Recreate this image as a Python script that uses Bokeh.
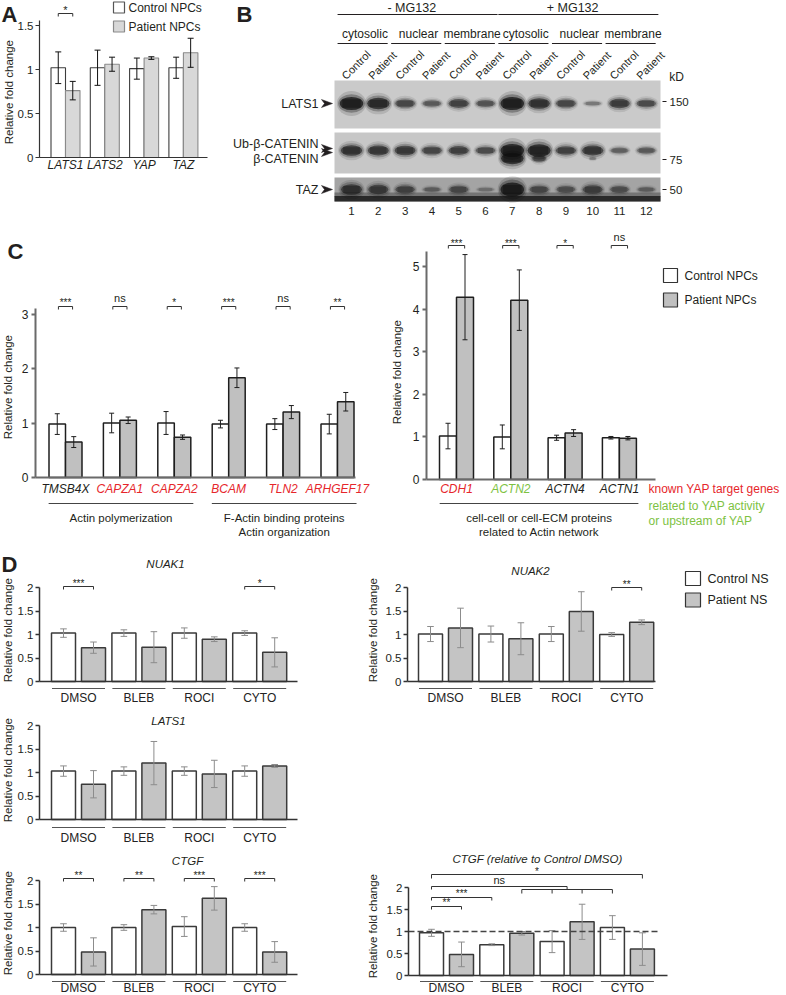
import math
from bokeh.plotting import figure
from bokeh.models import Range1d, FixedTicker, ColumnDataSource
from bokeh.layouts import column, row
from bokeh.embed import file_html
from bokeh.resources import INLINE
from bokeh.core.properties import value

FONT = "Liberation Sans"
INK = "#231f20"
RED = "#e6262b"
GREEN = "#7dc242"

# ====================== DATA ======================
# Panel A
a_genes = ["LATS1", "LATS2", "YAP", "TAZ"]
a_ctrl = [1.02, 1.02, 1.01, 1.02]
a_ctrl_err = [0.18, 0.20, 0.12, 0.12]
a_pat = [0.76, 1.06, 1.13, 1.19]
a_pat_err = [0.105, 0.08, 0.015, 0.165]
a_sig = ["*", "", "", ""]
a_ticks = [0, 0.5, 1, 1.5]
a_tick_labels = ["0", "0.5", "1", "1.5"]
npc_legend = ["Control NPCs", "Patient NPCs"]

# Panel B (western blot, band intensities 0..1)
b_lanes = list(range(1, 13))
b_lane_labels = [str(i) for i in b_lanes]
b_conditions = ["Control", "Patient"] * 6
b_fractions = ["cytosolic", "nuclear", "membrane", "cytosolic", "nuclear", "membrane"]
b_treatments = ["- MG132", "+ MG132"]
b_proteins = ["LATS1", "Ub-β-CATENIN", "β-CATENIN", "TAZ"]
b_markers = ["150", "75", "50"]
b_lats1 = [1.0, 0.85, 0.55, 0.4, 0.6, 0.45, 1.0, 0.75, 0.55, 0.2, 0.65, 0.5]
b_bcat = [0.75, 0.7, 0.68, 0.55, 0.6, 0.5, 1.0, 0.95, 0.6, 0.72, 0.35, 0.4]
b_bcat_smear = [0.0, 0.0, 0.0, 0.0, 0.0, 0.0, 0.9, 0.45, 0.0, 0.1, 0.0, 0.0]
b_taz = [0.7, 0.6, 0.5, 0.25, 0.45, 0.15, 1.0, 0.45, 0.4, 0.55, 0.4, 0.25]

# Panel C left
c1_genes = ["TMSB4X", "CAPZA1", "CAPZA2", "BCAM", "TLN2", "ARHGEF17"]
c1_gene_class = ["other", "yap", "yap", "yap", "yap", "yap"]
c1_ctrl = [0.98, 1.0, 1.0, 0.98, 0.98, 0.98]
c1_ctrl_err = [0.19, 0.18, 0.21, 0.07, 0.10, 0.18]
c1_pat = [0.65, 1.05, 0.74, 1.83, 1.20, 1.39]
c1_pat_err = [0.10, 0.06, 0.04, 0.18, 0.12, 0.17]
c1_sig = ["***", "ns", "*", "***", "ns", "**"]
c1_group_of = [0, 0, 0, 1, 1, 1]
c1_groups = [["Actin polymerization"], ["F-Actin binding proteins", "Actin organization"]]
c1_ticks = [0, 1, 2, 3]

# Panel C right
c2_genes = ["CDH1", "ACTN2", "ACTN4", "ACTN1"]
c2_gene_class = ["yap", "related", "other", "other"]
c2_ctrl = [1.02, 1.0, 0.98, 0.98]
c2_ctrl_err = [0.30, 0.28, 0.06, 0.03]
c2_pat = [4.28, 4.21, 1.09, 0.97]
c2_pat_err = [1.0, 0.71, 0.08, 0.04]
c2_sig = ["***", "***", "*", "ns"]
c2_groups = [["cell-cell or cell-ECM proteins", "related to Actin network"]]
c2_ticks = [0, 1, 2, 3, 4, 5]
class_notes = ["known YAP target genes", "related to YAP activity", "or upstream of YAP"]
class_note_class = ["yap", "related", "related"]

# Panel D
treatments = ["DMSO", "BLEB", "ROCI", "CYTO"]
ns_legend = ["Control NS", "Patient NS"]
d_ticks = [0, 0.5, 1, 1.5, 2]
d_tick_labels = ["0", "0.5", "1", "1.5", "2"]

nuak1_ctrl = [1.03, 1.03, 1.03, 1.03]
nuak1_ctrl_err = [0.09, 0.07, 0.11, 0.05]
nuak1_pat = [0.72, 0.73, 0.90, 0.62]
nuak1_pat_err = [0.12, 0.33, 0.05, 0.31]
nuak1_sig = ["***", "", "", "*"]

nuak2_ctrl = [1.01, 1.01, 1.01, 1.0]
nuak2_ctrl_err = [0.16, 0.17, 0.16, 0.04]
nuak2_pat = [1.14, 0.91, 1.49, 1.26]
nuak2_pat_err = [0.42, 0.34, 0.42, 0.05]
nuak2_sig = ["", "", "", "**"]

lats1_ctrl = [1.03, 1.03, 1.03, 1.03]
lats1_ctrl_err = [0.11, 0.09, 0.09, 0.11]
lats1_pat = [0.75, 1.20, 0.97, 1.14]
lats1_pat_err = [0.29, 0.46, 0.29, 0.03]

ctgf_ctrl = [1.0, 1.0, 1.02, 1.0]
ctgf_ctrl_err = [0.08, 0.06, 0.21, 0.08]
ctgf_pat = [0.48, 1.38, 1.62, 0.48]
ctgf_pat_err = [0.30, 0.09, 0.25, 0.22]
ctgf_sig = ["**", "**", "***", "***"]

ctgfr_ctrl = [0.97, 0.70, 0.77, 1.09]
ctgfr_ctrl_err = [0.08, 0.02, 0.25, 0.27]
ctgfr_pat = [0.48, 0.96, 1.22, 0.60]
ctgfr_pat_err = [0.28, 0.04, 0.40, 0.37]

class_color = {"yap": RED, "related": GREEN, "other": INK}
YLAB = "Relative  fold change"


# ====================== HELPERS ======================
class Panel:
    """A figure whose frame fills it; x in category units, y in value units, y axis pinned inside."""

    def __init__(self, box, axis_x, zero_y, k, c0, s, ticks=None, tick_labels=None,
                 axis_top=None, tick_size="12px", standoff=2, axis_color="#333", axis_width=1.3):
        x0, x1, y0, y1 = box
        self.zero_y, self.k, self.c0, self.s = zero_y, k, c0, s
        self.axis_color, self.axis_width = axis_color, axis_width
        p = figure(width=x1 - x0, height=y1 - y0, output_backend="svg", toolbar_location=None,
                   x_axis_location=None, y_axis_location=("left" if ticks else None),
                   x_range=Range1d(self.X(x0), self.X(x1)),
                   y_range=Range1d(self.Y(y1), self.Y(y0)),
                   min_border_left=0, min_border_right=0, min_border_top=0, min_border_bottom=0)
        p.outline_line_color = None
        p.xgrid.grid_line_color = None
        p.ygrid.grid_line_color = None
        p.background_fill_color = "white"
        p.border_fill_color = "white"
        if ticks:
            ax = p.yaxis[0]
            ax.fixed_location = self.X(axis_x)
            ax.ticker = FixedTicker(ticks=ticks)
            ax.major_label_overrides = {float(t): l for t, l in zip(ticks, tick_labels)}
            ax.bounds = (0, axis_top)
            ax.axis_line_color = axis_color
            ax.axis_line_width = axis_width
            ax.major_tick_line_color = axis_color
            ax.major_tick_line_width = axis_width
            ax.major_tick_in = 0
            ax.major_tick_out = 4
            ax.minor_tick_line_color = None
            ax.major_label_text_font = FONT
            ax.major_label_text_font_size = tick_size
            ax.major_label_text_color = INK
            ax.major_label_standoff = standoff
        self.p = p

    def X(self, px):
        return (px - self.c0) / self.s

    def Y(self, py):
        return (self.zero_y - py) / self.k

    def xaxis_line(self, from_px, to_px):
        self.p.segment(x0=[self.X(from_px)], y0=[0], x1=[self.X(to_px)], y1=[0],
                       line_color=self.axis_color, line_width=self.axis_width)

    def text(self, xs, ys, texts, size="12px", color=INK, align="center", baseline="middle",
             style="normal", angle=0.0):
        self.p.text(x=list(xs), y=list(ys), text=list(texts), text_font=value(FONT),
                    text_font_size=size, text_color=color, text_align=align,
                    text_baseline=baseline, text_font_style=style, angle=angle)

    def label(self, px, py, text, size, angle=0.0, align="center", baseline="middle",
              style="normal", color=INK):
        self.text([self.X(px)], [self.Y(py)], [text], size=size, color=color, align=align,
                  baseline=baseline, style=style, angle=angle)

    def bracket(self, xl, xr, py, drop_px, color="#333", lw=1.0):
        y = self.Y(py)
        d = drop_px / self.k
        self.p.line(x=[xl, xl, xr, xr], y=[y - d, y, y, y - d], line_color=color, line_width=lw)

    def legend_boxes(self, cx_px, cy_pxs, w_px, h_px, fills, lines, tx_px, labels, size):
        n = len(cy_pxs)
        self.p.rect(x=[self.X(cx_px)] * n, y=[self.Y(c) for c in cy_pxs],
                    width=w_px / self.s, height=h_px / abs(self.k),
                    fill_color=fills, line_color=lines, line_width=1.2)
        self.text([self.X(tx_px)] * n, [self.Y(c) for c in cy_pxs], labels, size=size, align="left")


def add_bars(P, xs, vals, errs, width, fill, line, lw, ecol, elw, cap_px):
    cap = cap_px / P.s
    src = ColumnDataSource(dict(
        x=xs, top=vals,
        lo=[v - e for v, e in zip(vals, errs)],
        hi=[v + e for v, e in zip(vals, errs)],
        xl=[x - cap for x in xs], xr=[x + cap for x in xs]))
    P.p.vbar(x="x", top="top", bottom=0, width=width, source=src,
             fill_color=fill, line_color=line, line_width=lw)
    P.p.segment(x0="x", y0="lo", x1="x", y1="hi", source=src, line_color=ecol, line_width=elw)
    P.p.segment(x0="xl", y0="hi", x1="xr", y1="hi", source=src, line_color=ecol, line_width=elw)
    P.p.segment(x0="xl", y0="lo", x1="xr", y1="lo", source=src, line_color=ecol, line_width=elw)


def star_size(sg):
    return "11px" if sg == "ns" else "10px"


# ====================== PANEL A ======================
A = Panel((0, 222, 0, 230), axis_x=39, zero_y=157, k=88.0, c0=65.0, s=39.3,
          ticks=a_ticks, tick_labels=a_tick_labels, axis_top=1.56, tick_size="11.5px",
          standoff=2, axis_color="#333", axis_width=1.2)
ga = list(range(len(a_genes)))
wa = 14.5 / A.s
add_bars(A, [i - wa / 2 for i in ga], a_ctrl, a_ctrl_err, wa, "white", "#3c3c3c", 1.1, "#111", 1.0, 3)
add_bars(A, [i + wa / 2 for i in ga], a_pat, a_pat_err, wa, "#d8d8d8", "#8a8a8a", 1.1, "#111", 1.0, 3)
A.xaxis_line(39, 207)
A.text(ga, [A.Y(164)] * len(ga), a_genes, size="12px", style="italic")
for i, sg in enumerate(a_sig):
    if sg:
        A.bracket(i - wa / 2, i + wa / 2, 13, 3)
        A.text([i], [A.Y(9)], [sg], size="11px")
A.legend_boxes(118.5, [7, 26], 11, 11, ["white", "#d8d8d8"], ["#555", "#8a8a8a"], 128,
               npc_legend, "12px")
A.label(8, 90, YLAB, "11.5px", angle=math.pi / 2)
A.label(1, 1, "A", "22px", align="left", baseline="top", style="bold")

# ====================== PANEL B (blot) ======================
B = Panel((222, 786, 0, 230), axis_x=222, zero_y=0, k=-1.0, c0=351 - 26.8, s=26.8)
pb = B.p
sx0, sx1 = B.X(334), B.X(660)
pb.quad(left=[sx0] * 3, right=[sx1] * 3, top=[B.Y(80), B.Y(132), B.Y(177)],
        bottom=[B.Y(128), B.Y(173), B.Y(201)],
        fill_color=["#cacaca", "#c7c7c7", "#a4a4a4"], line_color=None)
pb.quad(left=[sx0], right=[sx1], top=[B.Y(192)], bottom=[B.Y(196)], fill_color="#555555",
        fill_alpha=0.6, line_color=None)
pb.quad(left=[sx0], right=[sx1], top=[B.Y(195.5)], bottom=[B.Y(201)], fill_color="#2a2a2a",
        line_color=None)


def blot_bands(yc, inten, hmax, wmin=0.62, wgain=0.33):
    lanes = [l for l, i in zip(b_lanes, inten) if i > 0]
    vals = [i for i in inten if i > 0]
    layers = [(1.15, 1.6, 0.14), (1.05, 1.2, 0.3), (0.92, 0.85, 0.7)]
    for ws, hs, a in layers:
        pb.ellipse(x=lanes, y=[B.Y(yc)] * len(lanes),
                   width=[(wmin + wgain * i) * ws for i in vals],
                   height=[(2.5 + hmax * i) * hs for i in vals],
                   fill_color="#0d0d0d", fill_alpha=[a * (0.15 + 0.85 * i) for i in vals],
                   line_color=None)
    # flatter core so bands look like bands rather than dots
    pb.rect(x=lanes, y=[B.Y(yc)] * len(lanes),
            width=[(wmin + wgain * i) * 0.72 for i in vals],
            height=[(2.5 + hmax * i) * 0.55 for i in vals],
            fill_color="#0d0d0d", fill_alpha=[0.45 * (0.15 + 0.85 * i) for i in vals],
            line_color=None)


blot_bands(103, b_lats1, 13)
blot_bands(158, b_bcat_smear, 12, wmin=0.2, wgain=0.8)
blot_bands(150, b_bcat, 13)
blot_bands(189, b_taz, 14)

grp_first, grp_last = [1, 7], [6, 12]
pb.segment(x0=[f - 0.52 for f in grp_first], y0=[B.Y(14)] * 2,
           x1=[l + 0.45 for l in grp_last], y1=[B.Y(14)] * 2, line_color=INK, line_width=1)
B.text([(f + l) / 2 - 0.25 for f, l in zip(grp_first, grp_last)], [B.Y(7)] * 2, b_treatments,
       size="12.5px")
pf, ps = b_lanes[0::2], b_lanes[1::2]
pb.segment(x0=[f - 0.52 for f in pf], y0=[B.Y(43)] * len(pf),
           x1=[s + 0.35 for s in ps], y1=[B.Y(43)] * len(pf), line_color=INK, line_width=1)
B.text([(f + s) / 2 for f, s in zip(pf, ps)], [B.Y(33)] * len(pf), b_fractions, size="12px")
B.text([l - 0.3 for l in b_lanes], [B.Y(77)] * len(b_lanes), b_conditions, size="11px",
       align="left", baseline="alphabetic", angle=math.pi / 4)
B.text(b_lanes, [B.Y(210)] * len(b_lanes), b_lane_labels, size="11.5px")
B.text([B.X(676)], [B.Y(76)], ["kD"], size="12px")
mk_y = [101, 159, 189]
pb.segment(x0=[B.X(662)] * 3, y0=[B.Y(y) for y in mk_y], x1=[B.X(666)] * 3,
           y1=[B.Y(y) for y in mk_y], line_color=INK, line_width=1)
B.text([B.X(669)] * 3, [B.Y(y) for y in mk_y], b_markers, size="11.5px", align="left")
prot_y = [103, 143, 158, 189]
B.text([B.X(318)] * 4, [B.Y(y) for y in prot_y], b_proteins, size="12.5px", align="right")
arrow_y = [103, 148, 152, 189]
pb.patches(xs=[[B.X(321), B.X(332), B.X(321), B.X(324)] for _ in arrow_y],
           ys=[[B.Y(y - 4), B.Y(y), B.Y(y + 4), B.Y(y)] for y in arrow_y],
           fill_color=INK, line_color=INK, line_width=0.5)
B.label(236, 1, "B", "22px", align="left", baseline="top", style="bold")

# ====================== PANEL C left ======================
C1 = Panel((0, 390, 230, 542), axis_x=35, zero_y=477, k=54.5, c0=65.0, s=54.4,
           ticks=c1_ticks, tick_labels=[str(t) for t in c1_ticks], axis_top=3.1,
           tick_size="12px", standoff=3, axis_color="#6a6a6a", axis_width=2.0)
g1 = list(range(len(c1_genes)))
w1 = 16.5 / C1.s
add_bars(C1, [i - w1 / 2 for i in g1], c1_ctrl, c1_ctrl_err, w1, "white", "#1e1e1e", 1.5, "#1e1e1e", 1.0, 2.5)
add_bars(C1, [i + w1 / 2 for i in g1], c1_pat, c1_pat_err, w1, "#c0c0c0", "#1e1e1e", 1.5, "#1e1e1e", 1.0, 2.5)
C1.xaxis_line(35, 355)
C1.text(g1, [C1.Y(488)] * len(g1), c1_genes, size="12px", style="italic",
        color=[class_color[c] for c in c1_gene_class])
for i, sg in enumerate(c1_sig):
    C1.bracket(i - 0.13, i + 0.13, 306, 3)
    C1.text([i], [C1.Y(297 if sg == "ns" else 302)], [sg], size=star_size(sg))
for gi, lines in enumerate(c1_groups):
    members = [i for i, g in enumerate(c1_group_of) if g == gi]
    lo, hi = members[0] - 0.31, members[-1] + 0.35
    C1.p.segment(x0=[lo], y0=[C1.Y(503)], x1=[hi], y1=[C1.Y(503)], line_color="#444", line_width=1)
    C1.text([(lo + hi) / 2] * len(lines), [C1.Y(517 + 14 * j) for j in range(len(lines))], lines,
            size="11.5px")
C1.label(7, 385, YLAB, "11.5px", angle=math.pi / 2)
C1.label(7, 238, "C", "22px", align="left", baseline="top", style="bold")

# ====================== PANEL C right ======================
C2 = Panel((390, 786, 230, 542), axis_x=426, zero_y=479, k=42.6, c0=456.0, s=54.3,
           ticks=c2_ticks, tick_labels=[str(t) for t in c2_ticks], axis_top=5.35,
           tick_size="12px", standoff=3, axis_color="#6a6a6a", axis_width=2.0)
g2 = list(range(len(c2_genes)))
w2 = 17 / C2.s
add_bars(C2, [i - w2 / 2 for i in g2], c2_ctrl, c2_ctrl_err, w2, "white", "#1e1e1e", 1.5, "#1e1e1e", 1.0, 2.5)
add_bars(C2, [i + w2 / 2 for i in g2], c2_pat, c2_pat_err, w2, "#c0c0c0", "#1e1e1e", 1.5, "#1e1e1e", 1.0, 2.5)
C2.xaxis_line(426, 655)
C2.text(g2, [C2.Y(488)] * len(g2), c2_genes, size="12px", style="italic",
        color=[class_color[c] for c in c2_gene_class])
for i, sg in enumerate(c2_sig):
    C2.bracket(i - 0.15, i + 0.15, 245, 3)
    C2.text([i], [C2.Y(236 if sg == "ns" else 243)], [sg], size=star_size(sg))
lo2, hi2 = g2[0] - 0.31, g2[-1] + 0.35
C2.p.segment(x0=[lo2], y0=[C2.Y(503)], x1=[hi2], y1=[C2.Y(503)], line_color="#444", line_width=1)
C2.text([(lo2 + hi2) / 2] * 2, [C2.Y(517), C2.Y(531)], c2_groups[0], size="11.5px")
C2.legend_boxes(670, [275, 299.5], 14, 14, ["white", "#c0c0c0"], ["#333", "#333"], 684,
                npc_legend, "12px")
C2.text([C2.X(648)] * 3, [C2.Y(488), C2.Y(505), C2.Y(520)], class_notes, size="12px",
        align="left", color=[class_color[c] for c in class_note_class])
C2.label(396, 370, YLAB, "11.5px", angle=math.pi / 2)


# ====================== PANEL D ======================
def d_panel(box, axis_x, zero_y, k, c0, s, ctrl, ctrl_err, pat, pat_err, title, title_px, title_py,
            x_end_px, line_py, lab_py, ylab_px, ylab_py, lab_size="12px"):
    P = Panel(box, axis_x, zero_y, k, c0, s, ticks=d_ticks, tick_labels=d_tick_labels, axis_top=2,
              tick_size="11.5px", standoff=2, axis_color="#333", axis_width=1.5)
    g = list(range(len(treatments)))
    off = 15.0 / s
    w = 24.0 / s
    P.xc = [i - off for i in g]
    P.xp = [i + off for i in g]
    add_bars(P, P.xc, ctrl, ctrl_err, w, "white", "#3a3a3a", 1.5, "#8c8c8c", 1.0, 3.3)
    add_bars(P, P.xp, pat, pat_err, w, "#c4c4c4", "#3a3a3a", 1.5, "#8c8c8c", 1.0, 3.3)
    P.xaxis_line(axis_x, x_end_px)
    P.text([P.X(title_px)], [P.Y(title_py)], [title], size="11.5px", style="italic")
    half = 26.5 / s
    P.p.segment(x0=[i - half for i in g], y0=[P.Y(line_py)] * len(g),
                x1=[i + half for i in g], y1=[P.Y(line_py)] * len(g),
                line_color="#555", line_width=1)
    P.text(g, [P.Y(lab_py)] * len(g), treatments, size=lab_size, color="#222")
    P.label(ylab_px, ylab_py, YLAB, "11.5px", angle=math.pi / 2)
    return P


def sig_marks(P, labels, line_py, text_py):
    for i, sg in enumerate(labels):
        if sg:
            P.bracket(P.xc[i], P.xp[i], line_py, 3)
            P.text([i], [P.Y(text_py)], [sg], size=star_size(sg))


N1 = d_panel((0, 360, 542, 707), 39, 681, 47.0, 78.0, 60.4, nuak1_ctrl, nuak1_ctrl_err,
             nuak1_pat, nuak1_pat_err, "NUAK1", 165, 563, 297, 688, 697, 7, 628)
sig_marks(N1, nuak1_sig, 586, 583)
N1.label(1, 551, "D", "22px", align="left", baseline="top", style="bold")

N2 = d_panel((360, 786, 542, 707), 407, 681, 47.0, 445.0, 60.4, nuak2_ctrl, nuak2_ctrl_err,
             nuak2_pat, nuak2_pat_err, "NUAK2", 530, 570, 655, 688, 697, 372, 628)
sig_marks(N2, nuak2_sig, 587, 584)
N2.legend_boxes(692.5, [578, 599.5], 15, 14, ["white", "#c4c4c4"], ["#333", "#333"], 707,
                ns_legend, "12.5px")

L1 = d_panel((0, 360, 707, 845), 39, 819, 47.0, 78.0, 60.4, lats1_ctrl, lats1_ctrl_err,
             lats1_pat, lats1_pat_err, "LATS1", 168, 720, 297, 827, 837, 7, 768)

G1 = d_panel((0, 360, 845, 995), 39, 974, 47.0, 78.0, 60.4, ctgf_ctrl, ctgf_ctrl_err,
             ctgf_pat, ctgf_pat_err, "CTGF", 187, 860, 297, 981, 987.5, 7, 921)
sig_marks(G1, ctgf_sig, 878, 875)

G2 = d_panel((360, 786, 845, 995), 408, 975, 44.0, 446.0, 60.3, ctgfr_ctrl, ctgfr_ctrl_err,
             ctgfr_pat, ctgfr_pat_err, "CTGF (relative to Control DMSO)", 537, 858, 667, 981,
             987.5, 372, 924)
G2.p.line(x=[G2.X(408), G2.X(658)], y=[1, 1], line_color="#444", line_width=1.6, line_dash="6 3")
xc, xp = G2.xc, G2.xp
# "*" : Control DMSO vs Patient CYTO
G2.bracket(xc[0], xp[3], 874, 4)
G2.text([(xc[0] + xp[3]) / 2], [G2.Y(871)], ["*"], size="10px")
# "ns": Control DMSO vs (Patient BLEB, ROCI, Control CYTO)
mid = (xp[1] + xc[3]) / 2
G2.p.line(x=[xc[0], xc[0], mid, mid], y=[G2.Y(889), G2.Y(886), G2.Y(886), G2.Y(889)],
          line_color="#333", line_width=1)
G2.p.line(x=[xp[1], xc[3]], y=[G2.Y(889), G2.Y(889)], line_color="#333", line_width=1)
G2.p.segment(x0=[xp[1], xc[2], xp[2], xc[3]], y0=[G2.Y(889)] * 4,
             x1=[xp[1], xc[2], xp[2], xc[3]], y1=[G2.Y(893)] * 4, line_color="#333", line_width=1)
G2.text([(xc[0] + mid) / 2], [G2.Y(879.5)], ["ns"], size="11px")
# "***": Control DMSO vs Control BLEB
G2.bracket(xc[0], xc[1], 897, 3)
G2.text([(xc[0] + xc[1]) / 2], [G2.Y(893)], ["***"], size="10px")
# "**": Control DMSO vs Patient DMSO
G2.bracket(xc[0], xp[0], 906, 3)
G2.text([(xc[0] + xp[0]) / 2], [G2.Y(902)], ["**"], size="10px")

layout = column(row(A.p, B.p), row(C1.p, C2.p), row(N1.p, N2.p), row(L1.p), row(G1.p, G2.p))
open("out.html", "w").write(file_html(layout, INLINE, title="Figure"))
